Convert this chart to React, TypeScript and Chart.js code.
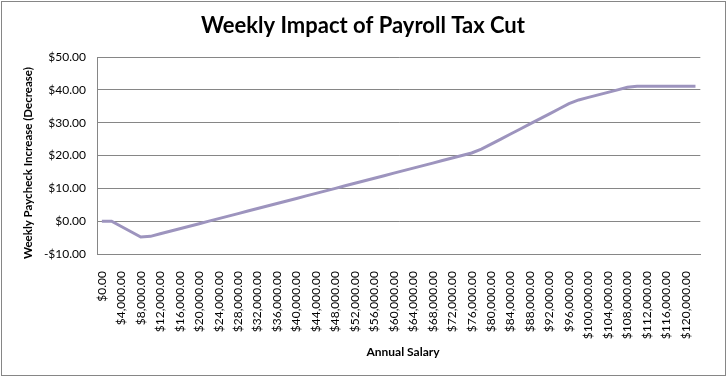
import React, { useEffect, useRef } from 'react';
import { Chart, registerables } from 'chart.js';

Chart.register(...registerables);

const chartTitle = 'Weekly Impact of Payroll Tax Cut';
const yAxisTitle = 'Weekly Paycheck Increase (Decrease)';
const xAxisTitle = 'Annual Salary';

const salaries = [
  0, 2000, 4000, 6000, 8000, 10000, 12000, 14000, 16000, 18000,
  20000, 22000, 24000, 26000, 28000, 30000, 32000, 34000, 36000, 38000,
  40000, 42000, 44000, 46000, 48000, 50000, 52000, 54000, 56000, 58000,
  60000, 62000, 64000, 66000, 68000, 70000, 72000, 74000, 76000, 78000,
  80000, 82000, 84000, 86000, 88000, 90000, 92000, 94000, 96000, 98000,
  100000, 102000, 104000, 106000, 108000, 110000, 112000, 114000, 116000, 118000,
  120000, 122000,
];

const weeklyImpact = [
  0, 0, -1.62, -3.23, -4.85, -4.62, -3.85, -3.08, -2.31, -1.54,
  -0.77, 0, 0.77, 1.54, 2.31, 3.08, 3.85, 4.62, 5.38, 6.15,
  6.92, 7.69, 8.46, 9.23, 10.0, 10.77, 11.54, 12.31, 13.08, 13.85,
  14.62, 15.38, 16.15, 16.92, 17.69, 18.46, 19.23, 20.0, 20.77, 21.92,
  23.46, 25.0, 26.54, 28.08, 29.62, 31.15, 32.69, 34.23, 35.77, 36.92,
  37.69, 38.46, 39.23, 40.0, 40.77, 41.08, 41.08, 41.08, 41.08, 41.08,
  41.08, 41.08,
];

const yMin = -10;
const yMax = 50;
const yStep = 10;

const FONT = 'Lato, "Open Sans", sans-serif';

function money(v: number): string {
  const neg = v < 0;
  const s = new Intl.NumberFormat('en-US', { minimumFractionDigits: 2, maximumFractionDigits: 2 }).format(Math.abs(v));
  return (neg ? '-$' : '$') + s;
}

const decorPlugin = {
  id: 'decor',
  beforeDraw(chart: any) {
    const ctx = chart.ctx;
    ctx.save();
    ctx.fillStyle = '#ffffff';
    ctx.fillRect(0, 0, chart.width, chart.height);
    ctx.restore();
  },
  afterDraw(chart: any) {
    const ctx = chart.ctx;
    ctx.save();
    ctx.strokeStyle = '#868686';
    ctx.lineWidth = 1;
    ctx.strokeRect(1.5, 1.5, chart.width - 3, chart.height - 3);

    ctx.fillStyle = '#000000';
    ctx.textAlign = 'center';
    ctx.textBaseline = 'middle';
    ctx.font = `bold 22px ${FONT}`;
    ctx.fillText(chartTitle, 363, 26);

    ctx.font = `bold 12px ${FONT}`;
    ctx.fillText(xAxisTitle, 403, 352);

    ctx.translate(28, 163);
    ctx.rotate(-Math.PI / 2);
    ctx.font = `bold 11.5px ${FONT}`;
    ctx.fillText(yAxisTitle, 0, 0);
    ctx.restore();
  },
};

export default function App() {
  const ref = useRef<HTMLCanvasElement | null>(null);

  useEffect(() => {
    if (!ref.current) return;
    const chart = new Chart(ref.current, {
      type: 'line',
      data: {
        labels: salaries.map((s) => money(s)),
        datasets: [
          {
            data: weeklyImpact,
            borderColor: '#9d94be',
            borderWidth: 3,
            pointRadius: 0,
            tension: 0,
            fill: false,
          },
        ],
      },
      options: {
        animation: false,
        responsive: false,
        maintainAspectRatio: false,
        layout: { padding: { top: 57, right: 16, bottom: 0, left: 0 } },
        plugins: {
          legend: { display: false },
          title: { display: false },
          tooltip: { enabled: false },
        },
        scales: {
          x: {
            type: 'category',
            offset: true,
            grid: { display: false, drawTicks: false },
            border: { display: true, color: '#868686', width: 1 },
            ticks: {
              autoSkip: false,
              maxRotation: 90,
              minRotation: 90,
              padding: 17,
              color: '#000000',
              font: { family: FONT, size: 12 },
              callback: (_v: any, i: number) => (i % 2 === 0 ? money(salaries[i]) : ''),
            },
            afterFit: (scale: any) => {
              scale.height = 123;
            },
          },
          y: {
            min: yMin,
            max: yMax,
            grid: { color: '#868686', lineWidth: 1, drawTicks: false },
            border: { display: true, color: '#868686', width: 1 },
            ticks: {
              stepSize: yStep,
              padding: 11,
              color: '#000000',
              font: { family: FONT, size: 12 },
              callback: (v: any) => money(Number(v)),
            },
            afterFit: (scale: any) => {
              scale.width = 97;
            },
          },
        },
      },
      plugins: [decorPlugin],
    });
    return () => chart.destroy();
  }, []);

  return (
    <div style={{ position: 'absolute', left: 0, top: 0, width: 727, height: 377 }}>
      <canvas ref={ref} width={727} height={377} style={{ display: 'block', width: 727, height: 377 }} />
    </div>
  );
}
